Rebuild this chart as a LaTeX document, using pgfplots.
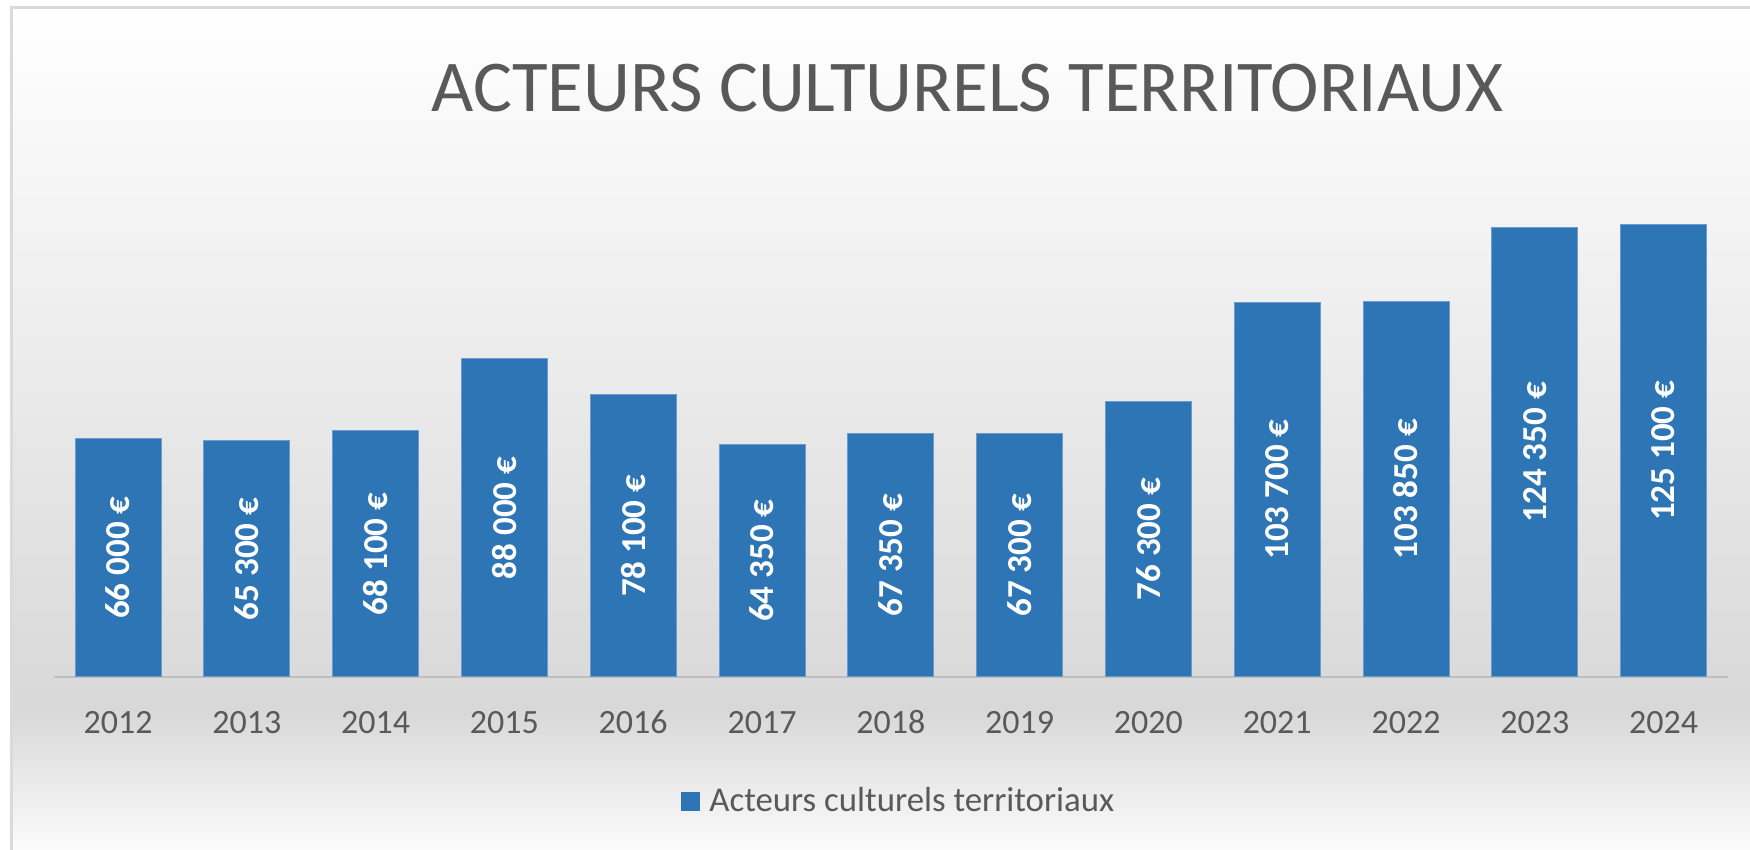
\documentclass[border=0pt]{standalone}
\usepackage{pgfplots}
\pgfplotsset{compat=1.18}
\usepackage{pgfplotstable}
\usepackage{fontspec}
\setmainfont{Carlito}
\definecolor{barblue}{HTML}{2E75B6}
\definecolor{baredge}{HTML}{6A9CD0}
\definecolor{txtgray}{HTML}{595959}
\definecolor{axgray}{HTML}{BFBFBF}
\definecolor{framegray}{HTML}{DADADA}
\definecolor{bgdark}{HTML}{D8D8D8}
\definecolor{bgbottom}{HTML}{FBFBFB}
\pgfplotstableread[col sep=comma]{
x,y,lab
0,66,66\ 000\ €
1,65.3,65\ 300\ €
2,68.1,68\ 100\ €
3,88,88\ 000\ €
4,78.1,78\ 100\ €
5,64.35,64\ 350\ €
6,67.35,67\ 350\ €
7,67.3,67\ 300\ €
8,76.3,76\ 300\ €
9,103.7,103\ 700\ €
10,103.85,103\ 850\ €
11,124.35,124\ 350\ €
12,125.1,125\ 100\ €
}\datatable
\begin{document}
\begin{tikzpicture}
\fill[white] (0pt,0pt) rectangle (875pt,425pt);
\shade[top color=white, bottom color=bgdark] (5pt,70pt) rectangle (875pt,421pt);
\shade[top color=bgdark, bottom color=bgbottom] (5pt,0pt) rectangle (875pt,70.2pt);
\draw[framegray, line width=1.5pt] (5.8pt,0pt) -- (5.8pt,421pt) -- (875pt,421pt);
\node[text=txtgray, font=\fontsize{36.5}{44}\selectfont, anchor=center] at (483.7pt,381pt) {ACTEURS CULTURELS TERRITORIAUX};
\begin{axis}[
  at={(26.8pt,86.5pt)}, anchor=south west,
  scale only axis, width=837.2pt, height=253.1pt,
  xmin=-0.5, xmax=12.5, ymin=0, ymax=140,
  axis y line=none, axis x line*=bottom,
  x axis line style={draw=axgray, line width=1pt, -},
  xtick={0,...,12},
  xticklabels={2012,2013,2014,2015,2016,2017,2018,2019,2020,2021,2022,2023,2024},
  major tick length=0pt,
  xticklabel style={font=\fontsize{17}{20}\selectfont, text=txtgray, anchor=base, yshift=-28.4pt},
  ytick=\empty,
  ybar, bar width=43pt,
  legend style={at={(0.3747,-0.245)}, anchor=west, draw=none, fill=none, inner sep=0pt,
    font=\fontsize{17.4}{20}\selectfont, text=txtgray, nodes={inner sep=0pt}},
  legend cell align=left,
]
\addplot[fill=barblue, draw=baredge, line width=0.5pt,
  point meta=explicit symbolic,
  visualization depends on={\thisrow{y}\as\rawy},
  nodes near coords={\pgfplotspointmeta},
  every node near coord/.append style={shift={(axis direction cs:0,-\rawy/2)}, rotate=90, anchor=center, text=white, font=\bfseries\fontsize{17.5}{20}\selectfont},
  legend image code/.code={\fill[barblue] (0pt,-4.5pt) rectangle (9pt,4.5pt); \path (13.5pt,0pt);}
] table[x=x, y=y, meta=lab] {\datatable};
\addlegendentry{Acteurs culturels territoriaux}
\end{axis}
\pgfresetboundingbox
\path[use as bounding box] (0pt,0pt) rectangle (875pt,425pt);
\end{tikzpicture}
\end{document}
